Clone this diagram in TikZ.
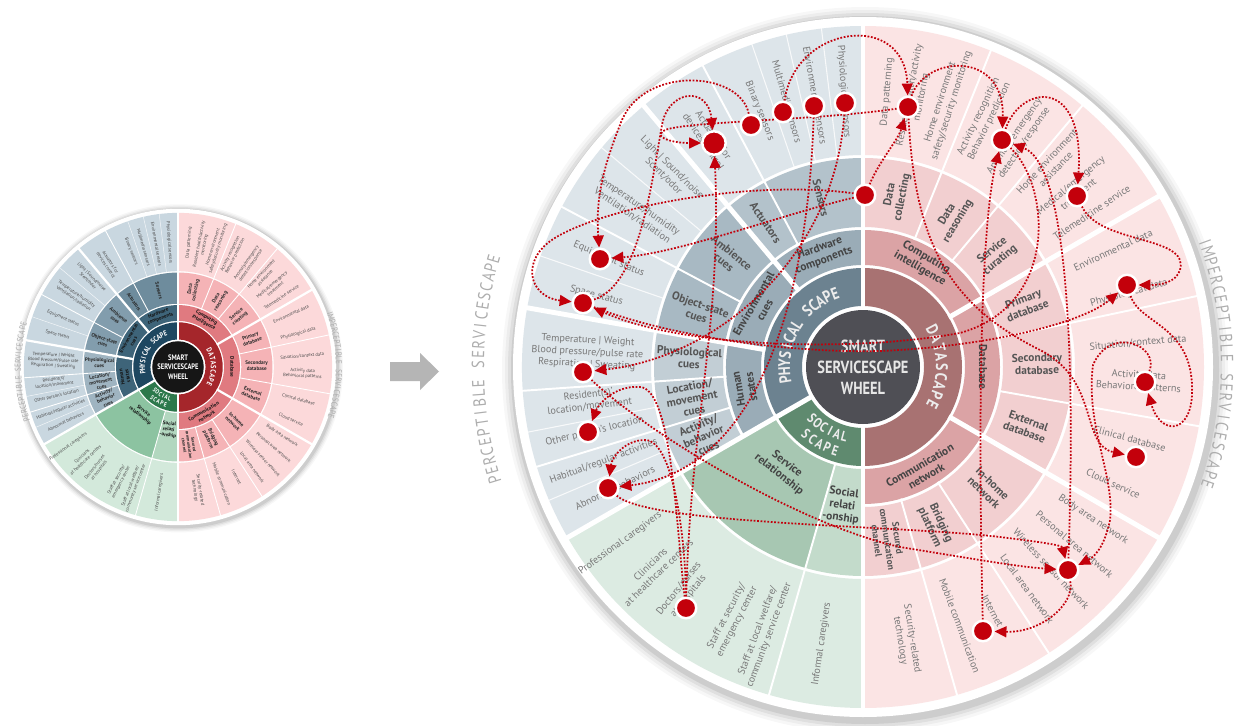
\documentclass[tikz,border=0pt]{standalone}
\usepackage{fontspec}
\setmainfont{PT Sans}
\newfontfamily\condfont[FakeStretch=0.82]{PT Sans}
\usetikzlibrary{arrows.meta}
\pgfdeclarelayer{fg}
\pgfsetlayers{main,fg}
% big wheel palette
\definecolor{bigC}{HTML}{4F4F55}
\definecolor{bigP1}{HTML}{6C8290}
\definecolor{bigP2}{HTML}{9AACB7}
\definecolor{bigP3a}{HTML}{B3C2CB}
\definecolor{bigP3b}{HTML}{A8B9C3}
\definecolor{bigP3c}{HTML}{C2CED5}
\definecolor{bigP4}{HTML}{DDE5EA}
\definecolor{bigD1}{HTML}{A87272}
\definecolor{bigD2}{HTML}{DBA3A5}
\definecolor{bigD3}{HTML}{F2CFD0}
\definecolor{bigD4}{HTML}{FBE4E4}
\definecolor{bigS1}{HTML}{5F8A6F}
\definecolor{bigS2}{HTML}{A7C7B2}
\definecolor{bigS3}{HTML}{C3DBCB}
\definecolor{bigS4}{HTML}{DCEBE2}
\definecolor{bigT1}{HTML}{ECECEC}
\definecolor{bigT2}{HTML}{444444}
\definecolor{bigT3}{HTML}{555555}
\definecolor{bigT4}{HTML}{787878}
\definecolor{bigTC}{HTML}{E6E6E6}
% small wheel palette
\definecolor{smallC}{HTML}{161616}
\definecolor{smallP1}{HTML}{1E4760}
\definecolor{smallP2}{HTML}{3E6479}
\definecolor{smallP3a}{HTML}{6E8C9D}
\definecolor{smallP3b}{HTML}{829DAD}
\definecolor{smallP3c}{HTML}{9FB4C1}
\definecolor{smallP4}{HTML}{C9D7E0}
\definecolor{smallD1}{HTML}{A5262B}
\definecolor{smallD2}{HTML}{E07A80}
\definecolor{smallD3}{HTML}{F5B3B6}
\definecolor{smallD4}{HTML}{FCD9DA}
\definecolor{smallS1}{HTML}{2C784B}
\definecolor{smallS2}{HTML}{8CC3A1}
\definecolor{smallS3}{HTML}{B2D7BF}
\definecolor{smallS4}{HTML}{D3E9DB}
\definecolor{smallT1}{HTML}{FFFFFF}
\definecolor{smallT2}{HTML}{151515}
\definecolor{smallT3}{HTML}{2A2A2A}
\definecolor{smallT4}{HTML}{4A4A4A}
\definecolor{smallTC}{HTML}{FFFFFF}
\definecolor{dotred}{HTML}{C3000B}
\definecolor{labgray}{HTML}{ADADAD}
\definecolor{arrowgray}{HTML}{B5B5B5}

\newcommand{\sect}[5]{\fill[#1] (#2:#4) arc[start angle=#2,end angle=#3,radius=#4] -- (#3:#5) arc[start angle=#3,end angle=#2,radius=#5] -- cycle;}
\newcommand{\cwtext}[5]{\foreach \cch [count=\cci] in {#5}{\pgfmathsetmacro\aang{#2-(\cci-1)*(#3)}\node[#4,anchor=base,inner sep=0pt,rotate=\aang-90] at (\aang:#1) {\cch};}}
\newcommand{\ccwtext}[5]{\foreach \cch [count=\cci] in {#5}{\pgfmathsetmacro\aang{#2+(\cci-1)*(#3)}\node[#4,anchor=base,inner sep=0pt,rotate=\aang+90] at (\aang:#1) {\cch};}}
\newcommand{\Lo}[2]{\node[o4,rotate=#1-180] at (#1:276) {#2};}
\newcommand{\Ro}[2]{\node[o4,rotate=#1] at (#1:276) {#2};}
\newcommand{\Lt}[2]{\node[l3,rotate=#1-180] at (#1:174) {#2};}
\newcommand{\Rt}[2]{\node[l3,rotate=#1] at (#1:174) {#2};}

\newcommand{\drawwheel}[2]{%
\tikzset{o4/.style={font=\fontsize{5.8}{6.8}\selectfont,text=#1T4,align=center,inner sep=0pt},
l3/.style={font=\bfseries\fontsize{6.5}{7.1}\selectfont,text=#1T3,align=center,inner sep=0pt},
l2/.style={font=\bfseries\fontsize{6.5}{7.3}\selectfont,text=#1T2,align=center,inner sep=0pt},
l1/.style={font=\condfont\bfseries\fontsize{9.5}{9.5}\selectfont,text=#1T1},
l1s/.style={font=\condfont\bfseries\fontsize{8}{8}\selectfont,text=#1T1}}%
\foreach \rr/\oo in {363/0.03,360/0.04,357/0.06,354/0.08}{\fill[black,opacity=\oo] (2,-3) circle[radius=\rr];}
\fill[white] (0,0) circle[radius=350];
\fill[#1C] (0,0) circle[radius=57];
\sect{#1P1}{90}{210}{61}{99}
\sect{#1D1}{-90}{90}{61}{99}
\sect{#1S1}{210}{270}{61}{99}
\sect{#1P2}{90}{210}{102}{137}
\sect{#1D2}{-90}{90}{102}{137}
\sect{#1S2}{210}{254}{102}{209}
\sect{#1S3}{254}{270}{102}{209}
\sect{#1P3a}{90}{130}{140}{209}
\sect{#1P3b}{130}{170}{140}{209}
\sect{#1P3c}{170}{210}{140}{209}
\sect{#1D3}{-90}{90}{140}{209}
\sect{#1P4}{90}{210}{212}{341}
\sect{#1D4}{-90}{90}{212}{341}
\sect{#1S4}{210}{270}{212}{341}
\foreach \an in {90,210,270}{\draw[white,line width=#2*2.8pt] (\an:58) -- (\an:344);}
\foreach \an in {130,170,30,-30}{\draw[white,line width=#2*2.8pt] (\an:99) -- (\an:344);}
\foreach \an in {118,152,184,197,68,50,12,-10,-57,-74}{\draw[white,line width=#2*1.1pt] (\an:137) -- (\an:344);}
\draw[white,line width=#2*1.1pt] (254:100) -- (254:344);
\foreach \an in {97,103,109,140,161,191,203}{\draw[white,opacity=0.8,line width=#2*0.6pt] (\an:211) -- (\an:342);}
% centre
\node[font=\condfont\bfseries\fontsize{10}{12}\selectfont,text=#1TC,align=center] at (0,0) {SMART\\SERVICESCAPE\\WHEEL};
% ring 1
\cwtext{73}{189}{6}{l1}{P,H,Y,S,I,C,A,L,{},S,C,A,P,E}
\cwtext{73}{28}{7}{l1}{D,A,T,A,S,C,A,P,E}
\ccwtext{77}{225}{6}{l1s}{S,O,C,I,A,L}
\ccwtext{93}{229.5}{5.5}{l1s}{S,C,A,P,E}
% ring 2
\node[l2,rotate=20] at (110:120) {Hardware\\components};
\node[l2,rotate=60] at (150:120) {Environmental\\cues};
\node[l2,rotate=100] at (190:120) {Human\\states};
\node[l2,rotate=-30] at (60:120) {Computing\\intelligence};
\node[l2,rotate=-90] at (0:120) {Database};
\node[l2,rotate=30] at (-60:120) {Communication\\network};
\node[l2,rotate=-38] at (232:130) {Service\\relationship};
\node[l2,rotate=-8] at (261.5:140) {Social\\relati\\-onship};
% ring 3
\Lt{104}{Sensors}
\Lt{124}{Actuators}
\Lt{141}{Ambience\\cues}
\Lt{161}{Object-state\\cues}
\Lt{177}{Physiological\\cues}
\Lt{190.5}{Location/\\movement\\cues}
\Lt{203.5}{Activity/\\behavior\\cues}
\Rt{79}{Data\\collecting}
\Rt{59}{Data\\reasoning}
\Rt{40}{Service\\curating}
\Rt{21}{Primary\\database}
\Rt{1}{Secondary\\database}
\Rt{-20}{External\\database}
\Rt{-44}{In-home\\network}
\Rt{-65.5}{Bridging\\platform}
\node[l3,font=\bfseries\fontsize{5.4}{6}\selectfont,rotate=-82] at (-82:174) {Secured\\communication\\channel};
% ring 4 left
\Lo{94}{Physiological sensors}
\Lo{100}{Environmental sensors}
\Lo{106}{Multimedia sensors}
\Lo{112}{Binary sensors}
\Lo{124}{Actuators for\\devices control}
\Lo{135}{Light \textbar{} Sound/noise\\Scent/odor}
\Lo{145.5}{Temperature/humidity\\Ventilation/radiation}
\Lo{157}{Equipment status}
\Lo{165}{Space status}
\Lo{177}{Temperature \textbar{} Weight\\Blood pressure/pulse rate\\Respiration \textbar{} Sweating}
\Lo{187}{Resident(s)'\\location/movement}
\Lo{193.5}{Other person's location}
\Lo{200}{Habitual/regular activities}
\Lo{206}{Abnormal behaviors}
% ring 4 social
\node[o4,rotate=36] at (216:300) {Professional caregivers};
\node[o4,rotate=44] at (224:290) {Clinicians\\at healthcare centers};
\node[o4,rotate=51.5] at (231.5:288) {Doctors/nurses\\at hospitals};
\node[o4,rotate=62.5] at (242.5:284) {Staff at security/\\emergency center};
\node[o4,rotate=69.5] at (249.5:284) {Staff at local welfare/\\community service center};
\node[o4,rotate=81.5] at (261.5:280) {Informal caregivers};
% ring 4 right
\Ro{85}{Data patterning}
\Ro{79}{Resident health/activity\\monitoring}
\Ro{72.5}{Home environment\\safety/security monitoring}
\Ro{64}{Activity recognition\\Behavior prediction}
\Ro{55.5}{Anomaly/emergency\\detection/response}
\Ro{47}{Home environment\\assistance}
\Ro{40}{Medical/emergency\\treatment}
\Ro{34}{Telemedicine service}
\Ro{25}{Environmental data}
\Ro{15.5}{Physiological data}
\Ro{5}{Situation/context data}
\Ro{-3}{Activity data\\Behavioral patterns}
\Ro{-15}{Clinical database}
\Ro{-25}{Cloud service}
\Ro{-33.5}{Body area network}
\Ro{-40}{Personal area network}
\Ro{-47}{Wireless sensor network}
\Ro{-53.5}{Local area network}
\Ro{-62}{Internet}
\Ro{-69.5}{Mobile communication}
\Ro{-81}{Security-related\\technology}
}

\tikzset{
 flow/.style={draw=dotred,line width=1pt,dash pattern=on 1pt off 0.95pt,-{Triangle[length=6.8pt,width=6.2pt]}},
 rdot/.style={circle,fill=dotred,draw=white,line width=1.4pt,minimum size=0.41cm,inner sep=0pt},
 outlab/.style={font=\condfont\fontsize{10}{10}\selectfont,text=labgray},
 outlabs/.style={font=\condfont\fontsize{5}{5}\selectfont,text=labgray}
}

\begin{document}
\begin{tikzpicture}[x=0.02cm,y=0.02cm]
\useasboundingbox (0,0) rectangle (1255,725);
\fill[white] (0,0) rectangle (1255,725);

% small wheel
\begin{scope}[shift={(178,358)},scale=0.452,transform shape]
\drawwheel{small}{0.452}
\end{scope}
\begin{scope}[shift={(178,358)}]
\cwtext{157}{199}{1.5}{outlabs}{P,E,R,C,E,P,T,I,B,L,E,{},S,E,R,V,I,C,E,S,C,A,P,E}
\cwtext{158}{19.5}{1.5}{outlabs}{I,M,P,E,R,C,E,P,T,I,B,L,E,{},S,E,R,V,I,C,E,S,C,A,P,E}
\end{scope}

% arrow between wheels
\fill[arrowgray] (390,363) -- (420,363) -- (420,372) -- (439,353.5) -- (420,335) -- (420,344) -- (390,344) -- cycle;

% big wheel
\begin{scope}[shift={(863,358)}]
\drawwheel{big}{1}
\cwtext{379}{197}{1.45}{outlab}{P,E,R,C,E,P,T,I,B,L,E,{},S,E,R,V,I,C,E,S,C,A,P,E}
\cwtext{358}{20}{1.55}{outlab}{I,M,P,E,R,C,E,P,T,I,B,L,E,{},S,E,R,V,I,C,E,S,C,A,P,E}
\end{scope}

% dots
\begin{pgfonlayer}{fg}
\node[rdot,minimum size=0.47cm] (d1) at (714,582) {};
\node[rdot] (d2) at (751,600) {};
\node[rdot] (d3) at (783,613) {};
\node[rdot] (d4) at (814,619) {};
\node[rdot] (d5) at (845,622) {};
\node[rdot] (d6) at (865,530) {};
\node[rdot] (d7) at (908,618) {};
\node[rdot] (d8) at (1002,585) {};
\node[rdot] (d9) at (1077,529) {};
\node[rdot] (d10) at (1127,440) {};
\node[rdot] (d11) at (1145,343) {};
\node[rdot] (d12) at (1136,268) {};
\node[rdot] (d13) at (1068,155) {};
\node[rdot] (d14) at (983,94) {};
\node[rdot] (d15) at (600,466) {};
\node[rdot] (d16) at (583,422) {};
\node[rdot] (d17) at (583,353) {};
\node[rdot] (d18) at (588,293) {};
\node[rdot] (d19) at (608,237) {};
\node[rdot] (d20) at (686,117) {};
\end{pgfonlayer}

% connectors
\draw[flow] (d3) .. controls (795,700) and (905,715) .. (d7);
\draw[flow] (d2) .. controls (740,655) and (640,660) .. (620,600) .. controls (600,550) and (596,520) .. (d15);
\draw[flow] (d7) .. controls (820,605) and (700,604) .. (668,596) .. controls (650,590) and (668,582) .. (d1);
\draw[flow] (d6) .. controls (880,565) and (898,585) .. (d7);
\draw[flow] (d16) .. controls (640,440) and (652,545) .. (662,600) .. controls (668,635) and (708,640) .. (d1);
\draw[flow] (d6) .. controls (780,510) and (680,472) .. (d15);
\draw[flow] (d6) .. controls (760,545) and (620,522) .. (560,490) .. controls (518,468) and (528,428) .. (d16);
\draw[flow] (d8) .. controls (1050,540) and (1060,420) .. (960,392) .. controls (850,372) and (680,378) .. (d16);
\draw[flow] (d20) .. controls (690,300) and (722,400) .. (d1);
\draw[flow] (d20) .. controls (676,200) and (672,336) .. (640,338) .. controls (614,340) and (598,320) .. (d18);
\draw[flow] (d20) .. controls (686,170) and (676,285) .. (645,285) .. controls (625,285) and (612,268) .. (d19);
\draw[flow] (d5) .. controls (835,470) and (720,368) .. (d17);
\draw[flow] (d4) .. controls (808,430) and (760,255) .. (d19);
\draw[flow] (d16) .. controls (680,385) and (800,372) .. (880,374) .. controls (980,378) and (1080,400) .. (d10);
\draw[flow] (d7) .. controls (915,480) and (950,420) .. (1040,375) .. controls (1100,345) and (1080,280) .. (d12);
\draw[flow] (d17) .. controls (650,290) and (800,200) .. (900,178) .. controls (980,165) and (1020,158) .. (d13);
\draw[flow] (d19) .. controls (650,200) and (900,200) .. (1000,188) .. controls (1040,183) and (1062,180) .. (d13);
\draw[flow] (d7) .. controls (925,670) and (1005,675) .. (d8);
\draw[flow] (d8) .. controls (1020,640) and (1085,650) .. (d9);
\draw[flow] (d9) .. controls (1100,480) and (1190,490) .. (1180,455) .. controls (1176,443) and (1162,440) .. (d10);
\draw[flow] (d10) .. controls (1140,400) and (1195,400) .. (1192,330) .. controls (1190,290) and (1160,290) .. (d11);
\draw[flow] (d11) .. controls (1160,380) and (1110,400) .. (1093,360) .. controls (1085,300) and (1115,250) .. (1110,205) .. controls (1106,185) and (1098,170) .. (d13);
\draw[flow] (d13) .. controls (1075,120) and (1040,92) .. (d14);
\draw[flow] (d14) .. controls (978,300) and (980,500) .. (d8);
\draw[flow] (d13) .. controls (1075,350) and (1070,560) .. (d8);
\end{tikzpicture}
\end{document}
